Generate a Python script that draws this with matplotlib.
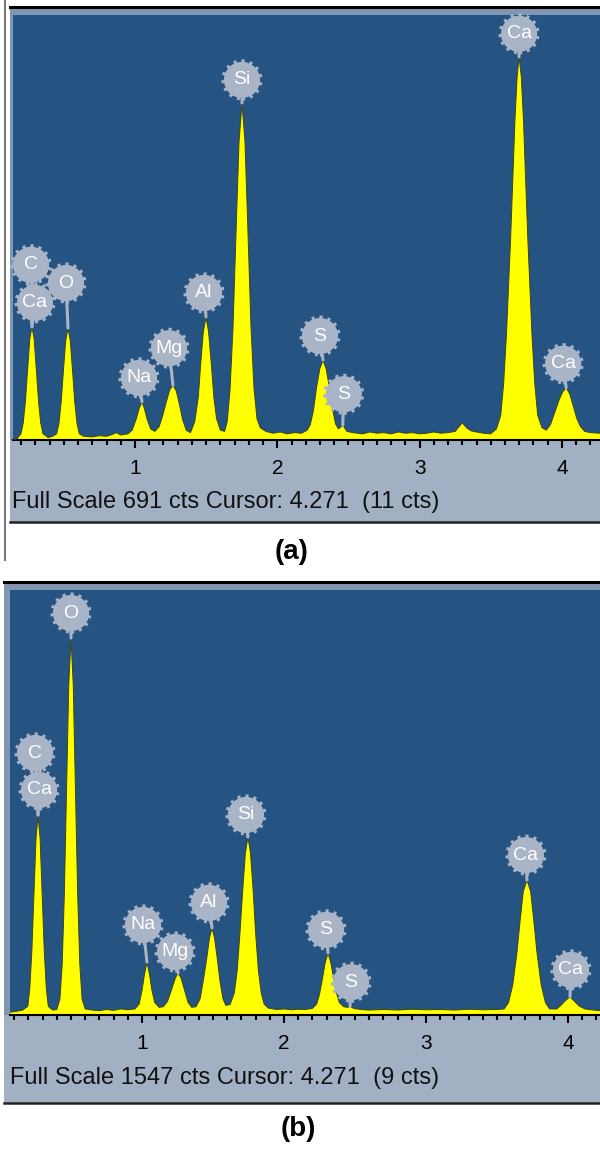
import matplotlib
matplotlib.use("Agg")
import matplotlib.pyplot as plt
from matplotlib.patches import Rectangle
from matplotlib.lines import Line2D
from matplotlib.transforms import offset_copy
from matplotlib.ticker import MultipleLocator, FixedLocator

plt.rcParams['font.family'] = ['Liberation Sans', 'DejaVu Sans']

# ---------------- data ----------------
# Panel (a): energy (keV) and counts
energy_a = [0.14, 0.17, 0.1985, 0.214, 0.2295, 0.245, 0.2605, 0.276, 0.2915, 0.307, 0.3225, 0.338, 0.3535,
            0.39, 0.42, 0.449, 0.465, 0.481, 0.497, 0.513, 0.529, 0.545, 0.561, 0.577, 0.593, 0.609,
            0.64, 0.70, 0.75, 0.80, 0.84, 0.87, 0.90, 0.95, 0.98, 1.01, 1.03, 1.049, 1.065, 1.085, 1.11,
            1.14, 1.17, 1.195, 1.22, 1.245, 1.267, 1.29, 1.31, 1.335, 1.36, 1.39, 1.42, 1.445, 1.462,
            1.48, 1.499, 1.517, 1.536, 1.554, 1.573, 1.60, 1.63, 1.648, 1.668, 1.689, 1.710, 1.731, 1.752,
            1.773, 1.794, 1.815, 1.836, 1.857, 1.88, 1.92, 1.97, 2.02, 2.07, 2.12, 2.17, 2.21, 2.232,
            2.254, 2.276, 2.299, 2.321, 2.343, 2.366, 2.388, 2.41, 2.43, 2.46, 2.49, 2.53, 2.60, 2.65,
            2.70, 2.75, 2.80, 2.85, 2.90, 2.95, 3.00, 3.05, 3.10, 3.15, 3.20, 3.25, 3.30, 3.33, 3.36,
            3.40, 3.45, 3.50, 3.54, 3.57, 3.59, 3.61, 3.64, 3.67, 3.685, 3.699, 3.715, 3.73, 3.76, 3.79,
            3.81, 3.83, 3.86, 3.89, 3.92, 3.95, 3.98, 4.005, 4.03, 4.055, 4.08, 4.105, 4.13, 4.16, 4.20,
            4.27]
counts_a = [0, 2, 10, 27, 62, 114, 164, 184, 164, 114, 62, 27, 10,
            4, 6, 10, 26, 61, 113, 162, 182, 162, 113, 61, 26, 10,
            6, 5, 7, 6, 9, 12, 8, 10, 16, 35, 52, 62, 52, 34, 18,
            14, 22, 40, 62, 82, 89, 80, 60, 33, 16, 12, 30, 70, 125,
            176, 200, 176, 125, 70, 35, 16, 14, 30, 82, 185, 338, 485, 548,
            485, 338, 185, 85, 35, 20, 14, 11, 13, 10, 12, 11, 16, 25,
            48, 86, 116, 130, 116, 86, 50, 26, 18, 24, 14, 12, 10, 13,
            11, 12, 10, 13, 11, 12, 10, 11, 13, 11, 12, 14, 28, 20, 15,
            13, 11, 10, 18, 40, 90, 170, 330, 520, 590, 623, 590, 520, 330, 170,
            90, 40, 20, 16, 25, 45, 65, 78, 85, 75, 55, 35, 22, 14, 12,
            11]

# Panel (b): energy (keV) and counts
energy_b = [0.07, 0.12, 0.16, 0.196, 0.210, 0.2245, 0.239, 0.2535, 0.268, 0.2825, 0.297, 0.3115, 0.326,
            0.34, 0.37, 0.40, 0.422, 0.438, 0.453, 0.469, 0.484, 0.500, 0.516, 0.531, 0.547, 0.562,
            0.578, 0.60, 0.65, 0.70, 0.75, 0.80, 0.85, 0.90, 0.95, 0.98, 1.00, 1.018, 1.035, 1.052,
            1.07, 1.09, 1.12, 1.15, 1.18, 1.21, 1.235, 1.254, 1.275, 1.30, 1.325, 1.35, 1.38, 1.41,
            1.43, 1.457, 1.475, 1.493, 1.511, 1.529, 1.55, 1.57, 1.59, 1.62, 1.65, 1.67, 1.69, 1.71,
            1.728, 1.746, 1.764, 1.782, 1.80, 1.82, 1.84, 1.86, 1.89, 1.95, 2.00, 2.05, 2.10, 2.15,
            2.20, 2.23, 2.25, 2.27, 2.29, 2.31, 2.33, 2.35, 2.37, 2.39, 2.42, 2.45, 2.465, 2.49, 2.54,
            2.60, 2.70, 2.80, 2.90, 3.00, 3.10, 3.20, 3.30, 3.40, 3.50, 3.55, 3.581, 3.611, 3.641,
            3.661, 3.685, 3.711, 3.737, 3.761, 3.781, 3.811, 3.841, 3.87, 3.92, 3.95, 3.98, 4.014,
            4.045, 4.08, 4.12, 4.18, 4.23]
counts_b = [10, 14, 18, 32, 98, 236, 442, 642, 728, 642, 442, 236, 98,
            32, 18, 20, 58, 185, 437, 832, 1200, 1372, 1200, 832, 437, 185,
            58, 22, 18, 16, 20, 17, 22, 19, 22, 40, 90, 150, 193, 150,
            90, 45, 28, 30, 50, 95, 135, 153, 135, 90, 45, 28, 30, 60,
            120, 210, 280, 317, 280, 210, 120, 60, 35, 38, 80, 160, 300, 460,
            590, 648, 590, 460, 300, 160, 80, 40, 25, 20, 22, 19, 21, 20,
            24, 40, 75, 130, 190, 226, 190, 130, 80, 45, 30, 28, 32, 24, 20,
            18, 20, 18, 21, 19, 20, 18, 21, 19, 20, 22, 45, 110, 230,
            335, 450, 491, 450, 335, 230, 110, 45, 22, 22, 35, 52, 66,
            50, 32, 22, 18, 16]

# Peak labels: element, energy (keV), counts at peak tip
labels_a = ["C", "Ca", "O", "Na", "Mg", "Al", "Si", "S", "S", "Ca", "Ca"]
peak_e_a = [0.276, 0.276, 0.529, 1.049, 1.267, 1.499, 1.752, 2.321, 2.46, 3.699, 4.03]
peak_c_a = [184, 184, 182, 62, 89, 200, 548, 130, 24, 623, 85]

labels_b = ["C", "Ca", "O", "Na", "Mg", "Al", "Si", "S", "S", "Ca", "Ca"]
peak_e_b = [0.268, 0.268, 0.500, 1.035, 1.254, 1.493, 1.746, 2.31, 2.465, 3.711, 4.014]
peak_c_b = [728, 728, 1372, 193, 153, 317, 648, 226, 32, 491, 66]

full_scale = [691, 1547]
status_text = ["Full Scale 691 cts Cursor: 4.271  (11 cts)",
               "Full Scale 1547 cts Cursor: 4.271  (9 cts)"]
panel_tags = ["(a)", "(b)"]
tick_values = [1, 2, 3, 4]

# ---------------- layout / style ----------------
W, H = 600, 1151
fig = plt.figure(figsize=(W / 100, H / 100), dpi=100)
fig.patch.set_facecolor("white")

def fy(py):
    return 1 - py / H

BLUE = "#255382"
FRAME = "#8196b2"
STRIP = "#a2b0c4"
YELLOW = "#ffff00"
BADGE = "#a9b4c6"
STEM = "#a9b4c6"

# badge offsets in pixels (dx, dy) from peak tip
offs_a = [(-1, 62), (3, 24), (-2, 45), (-3, 24), (-4, 37), (-2, 24), (0, 23), (-3, 24), (1, 31), (0, 23), (-3, 24)]
offs_b = [(-3, 62), (1, 25), (0, 25), (-4, 37), (-3, 21), (-3, 25), (-2, 22), (-2, 23), (1, 24), (-1, 25), (1, 27)]

panels = [
    dict(E=energy_a, C=counts_a, lab=labels_a, pe=peak_e_a, pc=peak_c_a, offs=offs_a,
         left_frame=10, left_axes=13, top_line=6.5, top_axes=15, base=440, bottom=522,
         x0px=-7.3, pxk=142.3, text_x=12, text_y=502, tag_xy=(292, 552)),
    dict(E=energy_b, C=counts_b, lab=labels_b, pe=peak_e_b, pc=peak_c_b, offs=offs_b,
         left_frame=4, left_axes=10, top_line=582, top_axes=590, base=1015, bottom=1103,
         x0px=0.0, pxk=142.0, text_x=10, text_y=1078, tag_xy=(298, 1129)),
]

# left scan line of panel (a)
fig.add_artist(Line2D([4.5 / W, 4.5 / W], [fy(0), fy(560)], color="#7a7a7a", lw=1.5))

for i, p in enumerate(panels):
    lf, la = p["left_frame"], p["left_axes"]
    fig.add_artist(Rectangle((lf / W, fy(p["bottom"])), (W - lf) / W, (p["bottom"] - p["top_line"]) / H,
                             transform=fig.transFigure, facecolor=FRAME, edgecolor="none", zorder=-2))
    fig.add_artist(Rectangle((lf / W, fy(p["bottom"])), (W - lf) / W, (p["bottom"] - p["base"]) / H,
                             transform=fig.transFigure, facecolor=STRIP, edgecolor="none", zorder=-1))
    fig.add_artist(Line2D([lf / W, 1], [fy(p["top_line"])] * 2, color="black", lw=2.2))
    fig.add_artist(Line2D([lf / W, 1], [fy(p["bottom"])] * 2, color="#222222", lw=1.8))

    ax = fig.add_axes([la / W, fy(p["base"]), (W - la) / W, (p["base"] - p["top_axes"]) / H])
    ax.set_facecolor(BLUE)
    xl = (la - p["x0px"]) / p["pxk"]
    xr = (W - p["x0px"]) / p["pxk"]
    ax.set_xlim(xl, xr)
    ax.set_ylim(0, full_scale[i])
    for s in ["top", "right", "left"]:
        ax.spines[s].set_visible(False)
    ax.spines["bottom"].set_color("black")
    ax.spines["bottom"].set_linewidth(1.5)
    ax.set_yticks([])
    ax.xaxis.set_major_locator(FixedLocator(tick_values))
    ax.xaxis.set_minor_locator(MultipleLocator(0.1))
    ax.tick_params(axis="x", which="major", direction="out", length=6, width=1.5, pad=8,
                   labelsize=15, colors="black")
    ax.tick_params(axis="x", which="minor", direction="out", length=3.5, width=1.5)

    ax.fill_between(p["E"], 0, p["C"], facecolor=YELLOW, edgecolor="none", zorder=2)
    ax.plot(p["E"], p["C"], color="#3a4420", lw=0.7, zorder=3)

    for lab, e, c, (dx, dy) in zip(p["lab"], p["pe"], p["pc"], p["offs"]):
        ax.annotate("", xy=(e, c), xycoords="data", xytext=(dx, dy), textcoords="offset pixels",
                    arrowprops=dict(arrowstyle="-", color=STEM, lw=2.2, shrinkA=0, shrinkB=0),
                    zorder=4, annotation_clip=False)
    for lab, e, c, (dx, dy) in zip(p["lab"], p["pe"], p["pc"], p["offs"]):
        tr = offset_copy(ax.transData, fig=fig, x=dx, y=dy, units="dots")
        ax.scatter([e], [c], s=680, transform=tr, color=BADGE, edgecolors=BADGE,
                   linewidths=3.5, linestyles=(0, (0.6, 1.0)), zorder=5, clip_on=False)
        ax.text(e, c, lab, transform=tr, ha="center", va="center", color="white",
                fontsize=14, zorder=6, clip_on=False)

    fig.text(p["text_x"] / W, fy(p["text_y"]), status_text[i], ha="left", va="center",
             fontsize=17, color="#111111")
    fig.text(p["tag_xy"][0] / W, fy(p["tag_xy"][1]), panel_tags[i], ha="center", va="center",
             fontsize=20, fontweight="bold", color="black")

fig.savefig("out.png", dpi=100)
